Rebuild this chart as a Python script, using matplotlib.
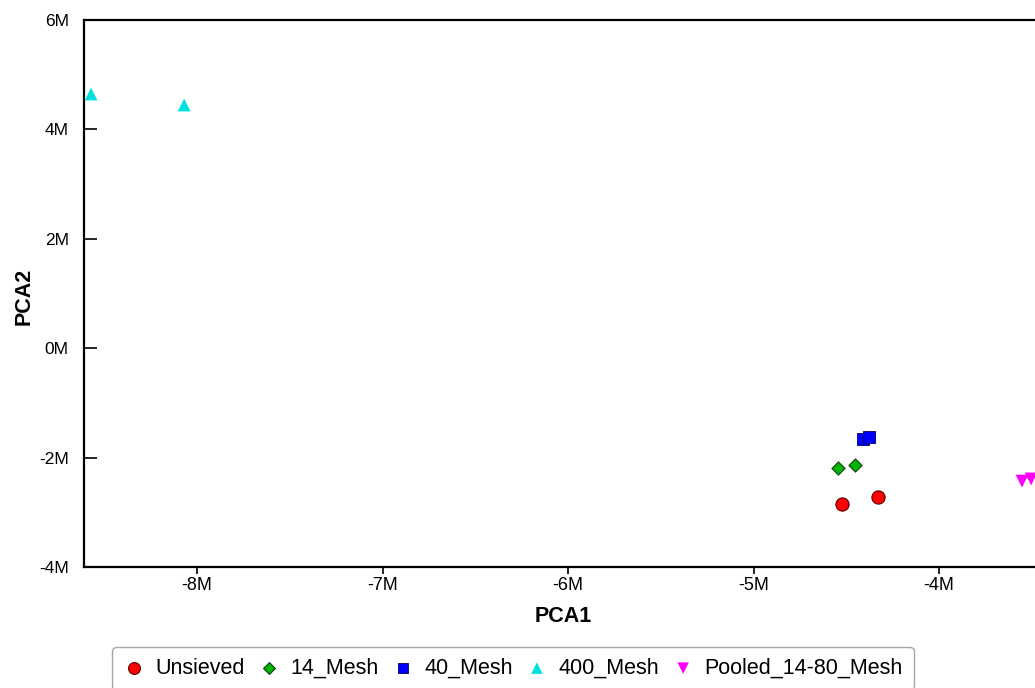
import numpy as np
import matplotlib.pyplot as plt

plt.rcParams['font.family'] = ['Liberation Sans', 'DejaVu Sans']

# Data (values in millions)
groups = ['Unsieved', '14_Mesh', '40_Mesh', '400_Mesh', 'Pooled_14-80_Mesh']
pca1 = {
    'Unsieved': [-4.523, -4.329],
    '14_Mesh': [-4.545, -4.453],
    '40_Mesh': [-4.41, -4.377],
    '400_Mesh': [-8.572, -8.07],
    'Pooled_14-80_Mesh': [-3.553, -3.504],
}
pca2 = {
    'Unsieved': [-2.848, -2.72],
    '14_Mesh': [-2.19, -2.135],
    '40_Mesh': [-1.66, -1.62],
    '400_Mesh': [4.647, 4.446],
    'Pooled_14-80_Mesh': [-2.43, -2.39],
}
xticks = [-8, -7, -6, -5, -4]
yticks = [-4, -2, 0, 2, 4, 6]

styles = {
    'Unsieved': dict(marker='o', color='#ff0000', edgecolor='#5a0000', s=90, lw=0.8),
    '14_Mesh': dict(marker='D', color='#00b400', edgecolor='#104010', s=45, lw=0.8),
    '40_Mesh': dict(marker='s', color='#0000ff', edgecolor='#000060', s=75, lw=0.6),
    '400_Mesh': dict(marker='^', color='#00e0e0', edgecolor='none', s=85, lw=0),
    'Pooled_14-80_Mesh': dict(marker='v', color='#ff00ff', edgecolor='none', s=85, lw=0),
}

fig = plt.figure(figsize=(10.35, 6.88), dpi=100)
ax = fig.add_axes([84 / 1035, 121 / 688, 958 / 1035, 547 / 688])

for g in groups:
    st = styles[g]
    ax.scatter(pca1[g], pca2[g], marker=st['marker'], c=st['color'],
               edgecolors=st['edgecolor'], s=st['s'], linewidths=st['lw'],
               label=g, zorder=3, clip_on=False)

ax.set_xlim(-8.61, -3.445)
ax.set_ylim(-4, 6)
ax.set_xticks(xticks)
ax.set_xticklabels([f'{t}M' for t in xticks])
ax.set_yticks(yticks)
ax.set_yticklabels([f'{t}M' for t in yticks])
ax.tick_params(axis='y', direction='in', length=9, width=1.2, labelsize=12.5, pad=11)
ax.tick_params(axis='x', direction='out', length=5, width=1.2, labelsize=13, pad=2.5)
for sp in ax.spines.values():
    sp.set_linewidth(1.6)
ax.spines['right'].set_visible(False)

ax.set_xlabel('PCA1', fontsize=15.5, fontweight='bold')
ax.set_ylabel('PCA2', fontsize=15.5, fontweight='bold')
ax.xaxis.set_label_coords(0.5, -0.071)
ax.yaxis.set_label_coords(-0.052, 0.494)

leg = fig.legend(loc='upper center', bbox_to_anchor=(513 / 1035, 1 - 647 / 688), ncol=5,
                 fontsize=15.5, frameon=True, fancybox=True, edgecolor='#909090',
                 handletextpad=0.5, columnspacing=0.62, borderpad=0.5, markerscale=0.9,
                 handlelength=1.0, borderaxespad=0)
leg.get_frame().set_linewidth(1.0)

plt.savefig('out.png', dpi=100)
